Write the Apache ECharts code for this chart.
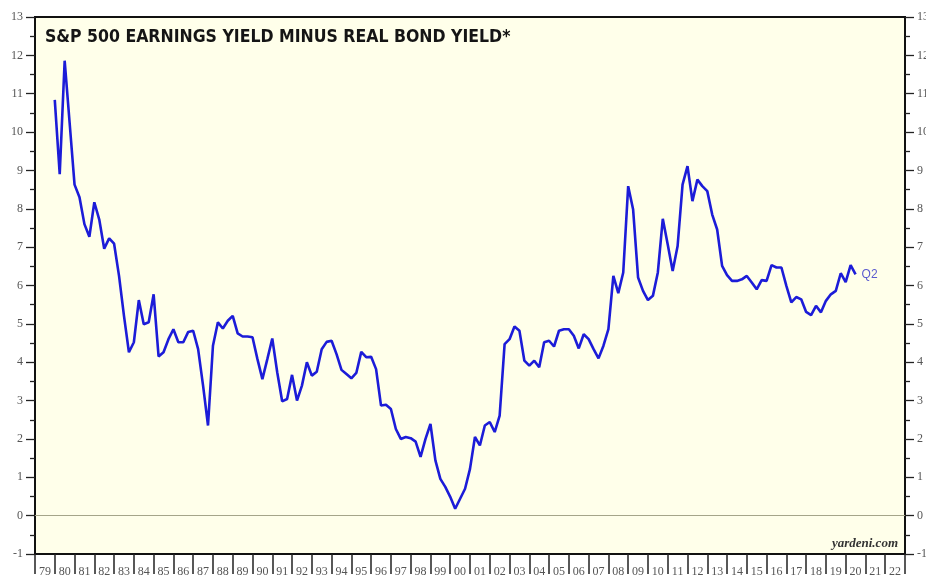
<!DOCTYPE html>
<html>
<head>
<meta charset="utf-8">
<script src="https://cdn.jsdelivr.net/npm/echarts@6/dist/echarts.min.js"></script>
<style>
  html, body { margin: 0; padding: 0; background: #fff; }
  #chart { width: 926px; height: 578px; }
</style>
</head>
<body>
<div id="chart"></div>
<script>
// year labels under the x axis, one per band
var yearLabels = ['79','80','81','82','83','84','85','86','87','88','89','90','91','92','93','94','95','96','97','98','99','00',
                  '01','02','03','04','05','06','07','08','09','10','11','12','13','14','15','16','17','18','19','20','21','22'];

// quarterly spread, Q4 1979 .. Q2 2020 (percent)
var firstQuarter = 1980.0;
var quarterStep = 0.25;
var spread = [
  10.84, 8.9, 11.86, 10.25, 8.63, 8.3, 7.6, 7.27, 8.17, 7.72,
  6.96, 7.23, 7.09, 6.25, 5.21, 4.26, 4.52, 5.62, 4.99, 5.04,
  5.77, 4.15, 4.26, 4.6, 4.86, 4.52, 4.52, 4.79, 4.82, 4.34,
  3.39, 2.35, 4.43, 5.04, 4.88, 5.08, 5.21, 4.75, 4.67, 4.67,
  4.65, 4.08, 3.56, 4.08, 4.62, 3.74, 2.98, 3.04, 3.67, 3.0,
  3.39, 4.0, 3.65, 3.75, 4.34, 4.53, 4.56, 4.21, 3.8, 3.69,
  3.58, 3.72, 4.27, 4.13, 4.14, 3.82, 2.87, 2.89, 2.78, 2.26,
  2.0, 2.05, 2.02, 1.93, 1.53, 2.0, 2.39, 1.44, 0.96, 0.75,
  0.49, 0.18, 0.44, 0.7, 1.22, 2.05, 1.83, 2.35, 2.44, 2.18,
  2.61, 4.47, 4.6, 4.93, 4.82, 4.04, 3.91, 4.04, 3.87, 4.52,
  4.56, 4.41, 4.82, 4.86, 4.86, 4.69, 4.36, 4.73, 4.6, 4.34,
  4.1, 4.43, 4.86, 6.25, 5.8, 6.34, 8.59, 7.98, 6.21, 5.86,
  5.62, 5.73, 6.34, 7.74, 7.07, 6.38, 7.03, 8.63, 9.11, 8.2,
  8.76, 8.59, 8.46, 7.85, 7.46, 6.51, 6.27, 6.12, 6.12, 6.16,
  6.25, 6.08, 5.9, 6.14, 6.12, 6.53, 6.47, 6.47, 5.99, 5.56,
  5.7, 5.64, 5.31, 5.23, 5.47, 5.3, 5.6, 5.77, 5.86, 6.32,
  6.09, 6.53, 6.29
];
var lastLabel = 'Q2';

var seriesData = spread.map(function (v, i) {
  return [firstQuarter + i * quarterStep, v];
});

var serif = "'Liberation Serif', 'Times New Roman', serif";
var yAxisBase = {
  type: 'value',
  min: -1,
  max: 13,
  interval: 1,
  axisLine: { show: true, onZero: false, lineStyle: { color: '#111', width: 2 } },
  axisTick: { show: true, length: 9, lineStyle: { color: '#222', width: 1.3 } },
  minorTick: { show: true, splitNumber: 2, length: 5, lineStyle: { color: '#222', width: 1.3 } },
  splitLine: { show: false },
  axisLabel: { color: '#555', fontFamily: serif, fontSize: 12, margin: 12 }
};

var myChart = echarts.init(document.getElementById('chart'));
var option = {
  animation: false,
  backgroundColor: '#fff',
  title: {
    text: 'S&P 500 EARNINGS YIELD MINUS REAL BOND YIELD*',
    left: 40,
    top: 23,
    textStyle: {
      fontFamily: "'Liberation Sans Narrow', 'DejaVu Sans Condensed', 'Liberation Sans', sans-serif",
      fontWeight: 'bold',
      fontSize: 17.5,
      color: '#151515'
    }
  },
  grid: {
    left: 35,
    right: 21,
    top: 17,
    bottom: 24,
    outerBoundsMode: 'none',
    show: true,
    borderColor: '#111',
    borderWidth: 2,
    backgroundColor: '#FFFFEA'
  },
  xAxis: [
    {
      type: 'category',
      data: yearLabels,
      boundaryGap: true,
      axisLine: { show: true, onZero: false, lineStyle: { color: '#111', width: 2 } },
      axisTick: { show: true, interval: 0, length: 20, lineStyle: { color: '#222', width: 1.5 } },
      axisLabel: { interval: 0, color: '#555', fontFamily: serif, fontSize: 12, margin: 12 },
      splitLine: { show: false }
    },
    {
      type: 'value',
      min: 1979,
      max: 2023,
      show: false
    }
  ],
  yAxis: [
    Object.assign({}, yAxisBase, { position: 'left' }),
    Object.assign({}, yAxisBase, { position: 'right' })
  ],
  graphic: [
    {
      type: 'text',
      right: 28,
      bottom: 28,
      style: {
        text: 'yardeni.com',
        font: "italic bold 13px 'Liberation Serif', serif",
        fill: '#333'
      }
    }
  ],
  series: [
    {
      type: 'line',
      xAxisIndex: 1,
      yAxisIndex: 0,
      data: seriesData,
      showSymbol: false,
      lineStyle: { color: '#1c1cd8', width: 2.6 },
      endLabel: {
        show: true,
        formatter: lastLabel,
        color: '#5b5bcf',
        fontSize: 12,
        fontFamily: "'Liberation Sans', sans-serif",
        distance: 6
      },
      markLine: {
        silent: true,
        symbol: 'none',
        label: { show: false },
        lineStyle: { color: '#a5a58a', width: 1, type: 'solid' },
        data: [{ yAxis: 0 }]
      }
    }
  ]
};
myChart.setOption(option);
</script>
</body>
</html>
